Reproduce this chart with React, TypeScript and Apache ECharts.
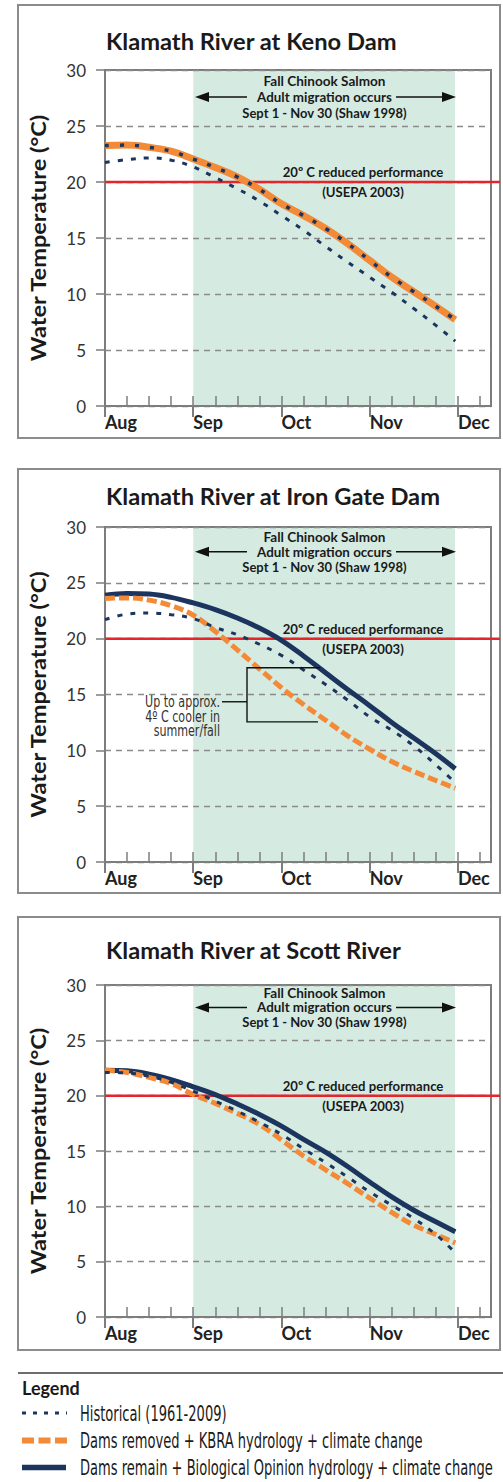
import React, { useEffect, useRef } from 'react';
import * as echarts from 'echarts';

// ---------------- data ----------------
const months = ['Aug', 'Sep', 'Oct', 'Nov', 'Dec'];
const monthTickValues = [0, 1, 2, 3, 4];
// positions of the samples, in months after Aug 1
const samplePositions = [0, 0.25, 0.5, 0.75, 1, 1.25, 1.5, 1.75, 2, 2.25, 2.5, 2.75, 3, 3.25, 3.5, 3.75, 3.97];
const migrationWindow = [1, 3.967]; // Sept 1 - Nov 30
const thresholdC = 20;

const kenoHistorical = [21.75, 22.0, 22.15, 21.95, 21.35, 20.4, 19.4, 18.3, 17.0, 15.7, 14.25, 12.85, 11.5, 10.15, 8.7, 7.2, 5.8];
const kenoDamsRemoved = [23.25, 23.3, 23.1, 22.75, 22.05, 21.3, 20.45, 19.35, 18.05, 17.0, 15.85, 14.5, 13.0, 11.5, 10.2, 8.9, 7.7];
const kenoDamsRemain = [23.25, 23.3, 23.1, 22.75, 22.05, 21.3, 20.45, 19.35, 18.05, 17.0, 15.85, 14.5, 13.0, 11.5, 10.2, 8.9, 7.7];

const ironGateHistorical = [21.7, 22.2, 22.3, 22.15, 21.8, 21.0, 20.35, 19.5, 18.5, 17.2, 15.9, 14.5, 13.0, 11.8, 10.4, 8.7, 7.1];
const ironGateDamsRemoved = [23.6, 23.65, 23.45, 22.95, 22.1, 20.65, 19.0, 17.3, 15.6, 14.1, 12.7, 11.3, 10.1, 9.0, 8.1, 7.3, 6.6];
const ironGateDamsRemain = [23.9, 24.05, 24.0, 23.7, 23.2, 22.6, 21.85, 20.95, 19.85, 18.45, 16.95, 15.45, 14.0, 12.5, 11.1, 9.7, 8.35];

const scottHistorical = [22.1, 22.05, 21.75, 21.2, 20.4, 19.5, 18.6, 17.6, 16.5, 15.2, 13.95, 12.65, 11.3, 10.1, 8.9, 7.45, 5.8];
const scottDamsRemoved = [22.3, 22.1, 21.65, 21.1, 20.1, 19.3, 18.4, 17.4, 16.0, 14.55, 13.3, 12.05, 10.75, 9.45, 8.3, 7.45, 6.7];
const scottDamsRemain = [22.3, 22.25, 21.95, 21.45, 20.8, 20.1, 19.25, 18.3, 17.25, 16.05, 14.9, 13.6, 12.2, 10.85, 9.65, 8.6, 7.7];

const titles = ['Klamath River at Keno Dam', 'Klamath River at Iron Gate Dam', 'Klamath River at Scott River'];
const seriesNames = [
  'Historical (1961-2009)',
  'Dams removed + KBRA hydrology + climate change',
  'Dams remain + Biological Opinion hydrology + climate change',
];
const migrationText = ['Fall Chinook Salmon', 'Adult migration occurs', 'Sept 1 - Nov 30 (Shaw 1998)'];
const thresholdText = ['20\u00BA C reduced performance', '(USEPA 2003)'];
const coolerText = ['Up to approx.', '4\u00BA C cooler in', 'summer/fall'];

const panelData = [
  { hist: kenoHistorical, removed: kenoDamsRemoved, remain: kenoDamsRemain, merged: true },
  { hist: ironGateHistorical, removed: ironGateDamsRemoved, remain: ironGateDamsRemain, merged: false },
  { hist: scottHistorical, removed: scottDamsRemoved, remain: scottDamsRemain, merged: false },
];

// ---------------- layout / style ----------------
const X_MAX = 4.375;
const GRID_LEFT = 105;
const GRID_WIDTH = 386;
const layouts = [
  { top: 70, height: 336, boxTop: 5, boxBottom: 438, titleY: 41.5, annoY: [81, 97, 112.5] },
  { top: 527, height: 335, boxTop: 469, boxBottom: 893, titleY: 496, annoY: [536.7, 551.7, 566.7] },
  { top: 985, height: 332, boxTop: 917, boxBottom: 1350, titleY: 950, annoY: [993, 1007.5, 1022] },
];
const migrationTextWidths = [122, 135, 165];
const BOX_LEFT = 18;
const BOX_RIGHT = 500;

const NAVY = '#1b355f';
const ORANGE = '#f28a38';
const RED = '#e4262c';
const GRAY = '#7d7d7d';
const SHADE = '#d5ebe2';
const MAIN_FONT = 'Lato, "Open Sans", sans-serif';
const NARROW_FONT = '"Liberation Sans Narrow", "DejaVu Sans Condensed", sans-serif';

let measureCtx: CanvasRenderingContext2D | null = null;
function textWidth(text: string, family: string, size: number, weight: string) {
  if (!measureCtx) measureCtx = document.createElement('canvas').getContext('2d');
  measureCtx!.font = `${weight} ${size}px ${family}`;
  return measureCtx!.measureText(text).width;
}
function fit(text: string, family: string, size: number, weight: string, target: number) {
  const w = textWidth(text, family, size, weight);
  return w > 0 ? target / w : 1;
}

function py(i: number, t: number) {
  const l = layouts[i];
  return l.top + ((30 - t) / 30) * l.height;
}

function buildOption() {
  const grid: any[] = [];
  const xAxis: any[] = [];
  const yAxis: any[] = [];
  const series: any[] = [];
  const graphic: any[] = [];

  const titleScale = fit(titles[0], MAIN_FONT, 22, 'bold', 291);
  const yNameScale = fit('Water Temperature (\u00B0C)', MAIN_FONT, 21, 'bold', 248);
  const annoScales = migrationText.map((t, k) => fit(t, MAIN_FONT, 13, 'bold', migrationTextWidths[k]));
  const thrScale = fit(thresholdText[0], MAIN_FONT, 13, 'bold', 161);
  const coolScale = fit(coolerText[0], NARROW_FONT, 15, 'normal', 75);
  const legendScale = fit(seriesNames[2], NARROW_FONT, 22, 'normal', 413);

  layouts.forEach((l, i) => {
    grid.push({
      left: GRID_LEFT,
      top: l.top,
      width: GRID_WIDTH,
      height: l.height,
      show: true,
      borderColor: GRAY,
      borderWidth: 2,
      backgroundColor: 'transparent',
    });
    // weekly ticks (inside)
    xAxis.push({
      gridIndex: i,
      type: 'value',
      min: 0,
      max: X_MAX,
      interval: 0.25,
      position: 'bottom',
      axisLine: { show: true, onZero: false, lineStyle: { color: GRAY, width: 2 } },
      axisTick: { show: true, inside: true, length: 10, lineStyle: { color: GRAY, width: 1.5 } },
      axisLabel: { show: false },
      splitLine: { show: false },
    });
    // month ticks + labels
    xAxis.push({
      gridIndex: i,
      type: 'value',
      min: 0,
      max: X_MAX,
      interval: 1,
      position: 'bottom',
      axisLine: { show: false, onZero: false },
      axisTick: {
        show: true,
        inside: false,
        length: 11,
        customValues: monthTickValues,
        lineStyle: { color: GRAY, width: 2 },
      },
      axisLabel: {
        show: true,
        customValues: monthTickValues,
        formatter: (v: number) => {
          const k = Math.round(v);
          return Math.abs(v - k) < 1e-6 && months[k] ? months[k] : '';
        },
        align: 'left',
        margin: 7,
        fontFamily: MAIN_FONT,
        fontWeight: 'bold',
        fontSize: 18,
        color: '#222',
      },
      splitLine: { show: false },
    });
    yAxis.push({
      gridIndex: i,
      type: 'value',
      min: 0,
      max: 30,
      interval: 5,
      axisLine: { show: true, lineStyle: { color: GRAY, width: 2 } },
      axisTick: { show: true, inside: false, length: 9, lineStyle: { color: GRAY, width: 1.5 } },
      axisLabel: { fontFamily: MAIN_FONT, fontSize: 17, color: '#333', margin: 19 },
      splitLine: { show: true, lineStyle: { color: '#8a8a8a', type: [6, 5], width: 1.3 } },
    });

    const xa = i * 2;
    // shaded migration window (custom series, below axis split lines)
    series.push({
      type: 'custom',
      xAxisIndex: xa,
      yAxisIndex: i,
      z: -1,
      silent: true,
      data: [[migrationWindow[0], migrationWindow[1]]],
      renderItem: (params: any, api: any) => {
        const p0 = api.coord([api.value(0), 30]);
        const p1 = api.coord([api.value(1), 0]);
        return {
          type: 'rect',
          shape: { x: p0[0], y: p0[1], width: p1[0] - p0[0], height: p1[1] - p0[1] },
          style: { fill: SHADE },
        };
      },
    });
    // threshold line (below the curves)
    series.push({
      type: 'custom',
      xAxisIndex: xa,
      yAxisIndex: i,
      z: 1,
      silent: true,
      clip: false,
      data: [[thresholdC]],
      renderItem: (params: any, api: any) => {
        const p0 = api.coord([0, api.value(0)]);
        return {
          type: 'line',
          shape: { x1: p0[0], y1: p0[1], x2: BOX_RIGHT, y2: p0[1] },
          style: { stroke: RED, lineWidth: 2.5 },
        };
      },
    });

    const d = panelData[i];
    const zip = (arr: number[]) => samplePositions.map((m, k) => [m, arr[k]]);
    if (d.merged) {
      series.push({
        name: seriesNames[1],
        type: 'line',
        xAxisIndex: xa,
        yAxisIndex: i,
        data: zip(d.removed),
        smooth: 0.4,
        showSymbol: false,
        z: 3,
        lineStyle: { color: ORANGE, width: 7 },
      });
      series.push({
        name: seriesNames[2],
        type: 'line',
        xAxisIndex: xa,
        yAxisIndex: i,
        data: zip(d.remain),
        smooth: 0.4,
        showSymbol: false,
        z: 4,
        lineStyle: { color: NAVY, width: 3.5, type: [4, 11] },
      });
    } else {
      series.push({
        name: seriesNames[2],
        type: 'line',
        xAxisIndex: xa,
        yAxisIndex: i,
        data: zip(d.remain),
        smooth: 0.4,
        showSymbol: false,
        z: 3,
        lineStyle: { color: NAVY, width: 5 },
      });
      series.push({
        name: seriesNames[1],
        type: 'line',
        xAxisIndex: xa,
        yAxisIndex: i,
        data: zip(d.removed),
        smooth: 0.4,
        showSymbol: false,
        z: 4,
        lineStyle: { color: ORANGE, width: 5, type: [10, 4] },
      });
    }
    series.push({
      name: seriesNames[0],
      type: 'line',
      xAxisIndex: xa,
      yAxisIndex: i,
      data: zip(d.hist),
      smooth: 0.4,
      showSymbol: false,
      z: 5,
      lineStyle: { color: NAVY, width: 3, type: [5, 8] },
    });

    // ---- graphics for the panel ----
    graphic.push({
      type: 'rect',
      shape: { x: BOX_LEFT, y: l.boxTop, width: BOX_RIGHT - BOX_LEFT, height: l.boxBottom - l.boxTop },
      style: { fill: 'none', stroke: '#8c8c8c', lineWidth: 2 },
      z: 1,
    });
    graphic.push({
      type: 'text',
      x: 106,
      y: l.titleY,
      scaleX: titleScale,
      z: 20,
      style: {
        text: titles[i],
        fill: '#1a1a1a',
        fontFamily: MAIN_FONT,
        fontWeight: 'bold',
        fontSize: 22,
        align: 'left',
        verticalAlign: 'middle',
      },
    });
    graphic.push({
      type: 'text',
      x: 38,
      y: l.top + l.height / 2,
      rotation: Math.PI / 2,
      scaleX: yNameScale,
      z: 20,
      style: {
        text: 'Water Temperature (\u00B0C)',
        fill: '#1a1a1a',
        fontFamily: MAIN_FONT,
        fontWeight: 'bold',
        fontSize: 21,
        align: 'center',
        verticalAlign: 'middle',
      },
    });
    migrationText.forEach((t, k) => {
      graphic.push({
        type: 'text',
        x: 324.5,
        y: l.annoY[k],
        scaleX: annoScales[k],
        z: 20,
        style: {
          text: t,
          fill: '#1a1a1a',
          fontFamily: MAIN_FONT,
          fontWeight: 'bold',
          fontSize: 13,
          align: 'center',
          verticalAlign: 'middle',
        },
      });
    });
    // arrows
    const ay = l.annoY[1];
    graphic.push({
      type: 'line',
      z: 20,
      shape: { x1: 205, y1: ay, x2: 247, y2: ay },
      style: { stroke: '#111', lineWidth: 1.6 },
    });
    graphic.push({
      type: 'polygon',
      z: 20,
      shape: { points: [[195, ay], [209, ay - 5], [209, ay + 5]] },
      style: { fill: '#111' },
    });
    graphic.push({
      type: 'line',
      z: 20,
      shape: { x1: 396, y1: ay, x2: 446, y2: ay },
      style: { stroke: '#111', lineWidth: 1.6 },
    });
    graphic.push({
      type: 'polygon',
      z: 20,
      shape: { points: [[456, ay], [442, ay - 5], [442, ay + 5]] },
      style: { fill: '#111' },
    });
    // threshold labels
    const y20 = py(i, thresholdC);
    graphic.push({
      type: 'text',
      x: 363,
      y: y20 - 9.5,
      scaleX: thrScale,
      z: 20,
      style: {
        text: thresholdText[0],
        fill: '#1a1a1a',
        fontFamily: MAIN_FONT,
        fontWeight: 'bold',
        fontSize: 13,
        align: 'center',
        verticalAlign: 'middle',
      },
    });
    graphic.push({
      type: 'text',
      x: 363,
      y: y20 + 10,
      scaleX: thrScale,
      z: 20,
      style: {
        text: thresholdText[1],
        fill: '#1a1a1a',
        fontFamily: MAIN_FONT,
        fontWeight: 'bold',
        fontSize: 13,
        align: 'center',
        verticalAlign: 'middle',
      },
    });
  });

  // bracket in Iron Gate panel
  const bTop = py(1, 17.4);
  const bBot = py(1, 12.55);
  const bMid = py(1, 14.35);
  graphic.push({
    type: 'polyline',
    shape: { points: [[320, bTop], [247, bTop], [247, bBot], [318, bBot]] },
    style: { stroke: '#111', lineWidth: 1.4, fill: 'none' },
    z: 20,
  });
  graphic.push({
    type: 'line',
    shape: { x1: 222, y1: bMid, x2: 247, y2: bMid },
    style: { stroke: '#111', lineWidth: 1.4 },
    z: 20,
  });
  coolerText.forEach((t, k) => {
    graphic.push({
      type: 'text',
      x: 220,
      y: bMid + k * 14.5,
      scaleX: coolScale,
      style: {
        text: t,
        fill: '#333',
        fontFamily: NARROW_FONT,
        fontSize: 15,
        align: 'right',
        verticalAlign: 'middle',
      },
      z: 20,
    });
  });

  // legend
  graphic.push({
    type: 'line',
    shape: { x1: BOX_LEFT, y1: 1373, x2: 503, y2: 1373 },
    style: { stroke: '#6d6d6d', lineWidth: 2 },
  });
  graphic.push({
    type: 'text',
    x: 22,
    y: 1388,
    style: {
      text: 'Legend',
      fill: '#1a1a1a',
      fontFamily: MAIN_FONT,
      fontWeight: 'bold',
      fontSize: 18,
      align: 'left',
      verticalAlign: 'middle',
    },
  });
  const legendY = [1413, 1440.5, 1467.5];
  graphic.push({
    type: 'line',
    shape: { x1: 22, y1: legendY[0], x2: 67, y2: legendY[0] },
    style: { stroke: NAVY, lineWidth: 3, lineDash: [4, 7] },
  });
  graphic.push({
    type: 'line',
    shape: { x1: 22, y1: legendY[1], x2: 67, y2: legendY[1] },
    style: { stroke: ORANGE, lineWidth: 6, lineDash: [12, 4.5] },
  });
  graphic.push({
    type: 'line',
    shape: { x1: 22, y1: legendY[2], x2: 66, y2: legendY[2] },
    style: { stroke: NAVY, lineWidth: 5.5 },
  });
  seriesNames.forEach((t, k) => {
    graphic.push({
      type: 'text',
      x: 80,
      y: legendY[k],
      scaleX: legendScale,
      style: {
        text: t,
        fill: '#1a1a1a',
        fontFamily: NARROW_FONT,
        fontSize: 22,
        align: 'left',
        verticalAlign: 'middle',
      },
    });
  });

  return {
    animation: false,
    backgroundColor: '#ffffff',
    grid,
    xAxis,
    yAxis,
    series,
    graphic: { elements: graphic },
  };
}

export default function App() {
  const ref = useRef<HTMLDivElement>(null);
  useEffect(() => {
    document.body.style.margin = '0';
    if (!ref.current) return;
    const chart = echarts.init(ref.current, null, { renderer: 'svg' });
    chart.setOption(buildOption() as any);
    return () => chart.dispose();
  }, []);
  return (
    <div
      ref={ref}
      style={{ position: 'absolute', left: 0, top: 0, width: 503, height: 1482, background: '#fff' }}
    />
  );
}
